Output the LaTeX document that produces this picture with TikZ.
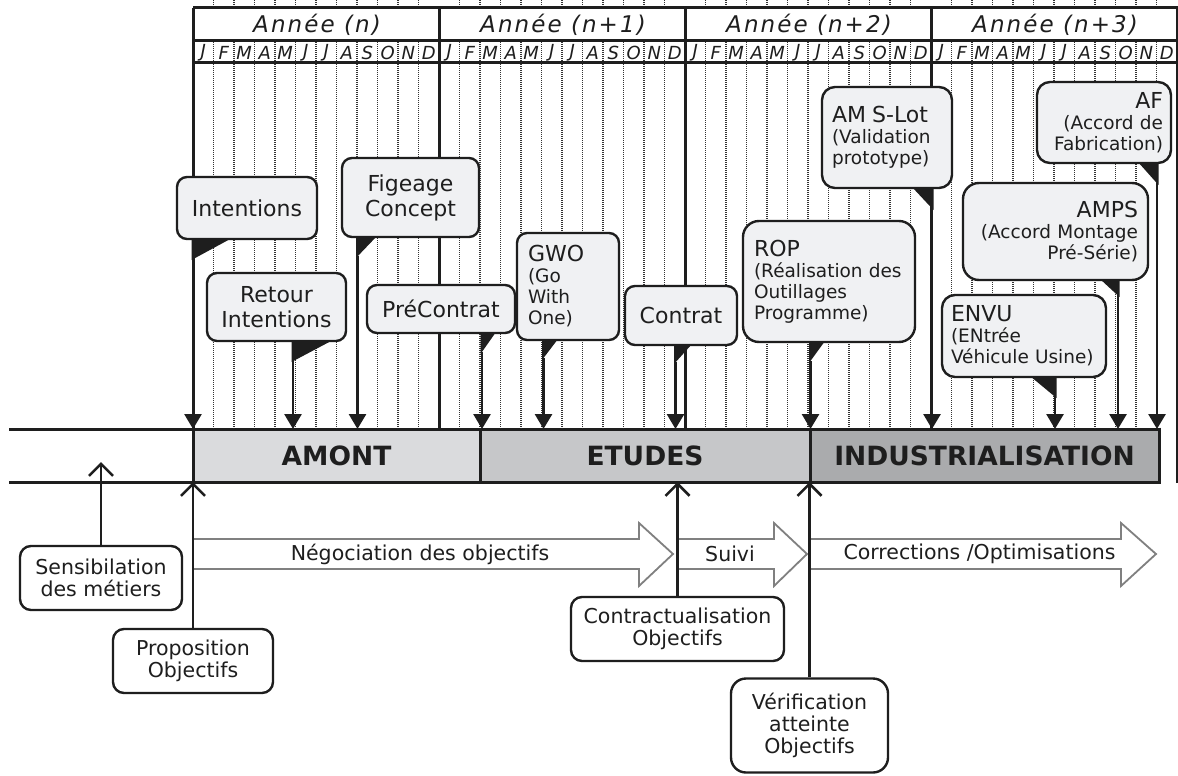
\documentclass[tikz,border=0pt]{standalone}
\usepackage{fontspec}
\setmainfont{DejaVu Sans}
\usetikzlibrary{arrows.meta}
\definecolor{boxfill}{HTML}{F0F1F3}
\definecolor{bandA}{HTML}{DADBDD}
\definecolor{bandB}{HTML}{C6C7C9}
\definecolor{bandC}{HTML}{AAABAD}
\definecolor{ink}{HTML}{1E1E1E}
\definecolor{arrgray}{HTML}{808080}
\newcommand{\subtxt}{\fontsize{18.5}{21}\selectfont}
\newcommand{\ttl}[1]{{\fontsize{22}{21}\selectfont #1}}
\begin{document}
\begin{tikzpicture}[x=1pt,y=-1pt,
  heavy/.style={draw=ink,line width=3pt},
  monthline/.style={draw=black!80,line width=1.8pt,dash pattern=on 1.2pt off 0.8pt},
  yearlbl/.style={font=\fontsize{23}{25}\selectfont\itshape\addfontfeature{LetterSpace=9},text=ink,inner sep=0pt},
  monthlbl/.style={font=\fontsize{18}{19}\selectfont\itshape,text=ink,inner sep=0pt},
  callbox/.style={draw=ink,line width=2.4pt,fill=boxfill,rounded corners=10pt,inner sep=0pt,font=\fontsize{22}{25}\selectfont,align=center,text=ink},
  lbox/.style={callbox,align=left,font=\subtxt},
  rbox/.style={callbox,align=right,font=\subtxt},
  tail/.style={fill=ink},
  callarrow/.style={draw=ink,line width=2.8pt,-{Triangle[width=17pt,length=15pt]}},
  band/.style={inner sep=0pt,minimum height=53pt,font=\fontsize{26.5}{28}\selectfont\bfseries,text=ink},
  botbox/.style={draw=ink,line width=2.4pt,fill=white,rounded corners=11pt,inner sep=0pt,font=\fontsize{20.5}{22}\selectfont,align=center,text=ink},
  uparrow/.style={draw=ink,line width=2.6pt,-{Straight Barb[width=24pt,length=12pt,line width=2.6pt]}},
  blockarrow/.style={draw=arrgray,line width=1.8pt,fill=white,line join=miter},
  flowlbl/.style={font=\fontsize{20.5}{22}\selectfont,text=ink,inner sep=0pt}
]
\useasboundingbox (0,0) rectangle (1178,776);
\fill[white] (0,0) rectangle (1178,776);

% month lines
\foreach \j in {0,...,3}{
  \foreach \k in {1,...,11}{
    \draw[monthline] ({193+246*\j+20.5*\k},0) -- ({193+246*\j+20.5*\k},429);
  }
}
% year row
\fill[white] (193,8) rectangle (1178,41);
\draw[heavy] (193,8) -- (1178,8);
\draw[heavy] (193,41) -- (1178,41);
\draw[heavy] (193,63) -- (1178,63);
\foreach \j/\t in {0/{(n)},1/{(n+1)},2/{(n+2)},3/{(n+3)}}{
  \node[yearlbl] (yr\j) at ({317+246*\j},25) {Année \t};
  \foreach \m [count=\k] in {J,F,M,A,M,J,J,A,S,O,N,D}{
    \node[monthlbl] (m\j-\k) at ({193+246*\j+20.5*(\k-0.5)},52.5) {\m};
  }
}
% year lines
\draw[heavy] (193,8) -- (193,429);
\draw[heavy] (439,8) -- (439,429);
\draw[heavy] (685,8) -- (685,429);
\draw[heavy] (931,8) -- (931,429);
\draw[heavy] (1177,8) -- (1177,483);

\coordinate (btop) at (0,429);
\coordinate (bbot) at (0,482);

% callouts
\node[callbox,minimum width=140pt,minimum height=62pt] (int) at (247,208) {Intentions};
\fill[tail] (191.5,238) -- (191.5,260) -- (232,238) -- cycle;
\coordinate (tint) at (193,258);
\draw[callarrow] (tint) -- (tint |- btop);

\node[callbox,minimum width=139pt,minimum height=68pt] (ret) at (276.5,307) {Retour\\Intentions};
\fill[tail] (291.5,340) -- (291.5,362) -- (333,340) -- cycle;
\coordinate (tret) at (293,360);
\draw[callarrow] (tret) -- (tret |- btop);

\node[callbox,minimum width=137pt,minimum height=79pt] (fig) at (410.5,197.5) {Figeage\\Concept};
\fill[tail] (356,236) -- (356,258) -- (377,236) -- cycle;
\coordinate (tfig) at (357.5,256);
\draw[callarrow] (tfig) -- (tfig |- btop);

\node[callbox,minimum width=148pt,minimum height=48pt] (pre) at (441,309) {PréContrat};
\fill[tail] (480.5,332) -- (480.5,354) -- (496,332) -- cycle;
\coordinate (tpre) at (482,352);
\draw[callarrow] (tpre) -- (tpre |- btop);

\node[lbox,minimum width=102pt,minimum height=107pt,text width=80pt] (gwo) at (568,286.5) {\ttl{GWO}\\(Go\\With\\One)};
\fill[tail] (542,339) -- (542,360) -- (558,339) -- cycle;
\coordinate (tgwo) at (543.5,358);
\draw[callarrow] (tgwo) -- (tgwo |- btop);

\node[callbox,minimum width=112pt,minimum height=59pt] (con) at (681,315.5) {Contrat};
\fill[tail] (674,344) -- (674,364) -- (692,344) -- cycle;
\coordinate (tcon) at (675.5,362);
\draw[callarrow] (tcon) -- (tcon |- btop);

\node[lbox,rounded corners=16pt,minimum width=172pt,minimum height=121pt,text width=150pt] (rop) at (829,281.5) {\ttl{ROP}\\(Réalisation des\\Outillages\\Programme)};
\fill[tail] (809,341) -- (809,363) -- (825,341) -- cycle;
\coordinate (trop) at (810.5,361);
\draw[callarrow] (trop) -- (trop |- btop);

\node[lbox,rounded corners=13pt,minimum width=130pt,minimum height=101pt,text width=110pt] (ams) at (887,137.5) {\ttl{AM S-Lot}\\(Validation\\prototype)};
\fill[tail] (912,187) -- (933.5,187) -- (933.5,210) -- cycle;
\coordinate (tams) at (932,208);
\draw[callarrow] (tams) -- (tams |- btop);

\node[rbox,rounded corners=13pt,minimum width=134pt,minimum height=81pt,text width=118pt] (af) at (1104,122.5) {\ttl{AF}\\(Accord de\\Fabrication)};
\fill[tail] (1138,162) -- (1158.5,162) -- (1158.5,185) -- cycle;
\coordinate (taf) at (1157,183);
\draw[callarrow] (taf) -- (taf |- btop);

\node[rbox,rounded corners=16pt,minimum width=185pt,minimum height=97pt,text width=165pt] (amps) at (1055.5,231.5) {\ttl{AMPS}\\(Accord Montage\\Pré-Série)};
\fill[tail] (1100,279) -- (1119.5,279) -- (1119.5,297) -- cycle;
\coordinate (tamps) at (1118,295);
\draw[callarrow] (tamps) -- (tamps |- btop);

\node[lbox,rounded corners=13pt,minimum width=164pt,minimum height=82pt,text width=146pt] (envu) at (1024,336) {\ttl{ENVU}\\(ENtrée\\Véhicule Usine)};
\fill[tail] (1030,376) -- (1056.5,376) -- (1056.5,398) -- cycle;
\coordinate (tenvu) at (1055,396);
\draw[callarrow] (tenvu) -- (tenvu |- btop);

% band
\node[band,fill=bandA,minimum width=287pt] (amont) at (336.5,455.5) {AMONT};
\node[band,fill=bandB,minimum width=330pt] (etudes) at (645,455.5) {ETUDES};
\node[band,fill=bandC,minimum width=349pt] (indus) at (984.5,455.5) {INDUSTRIALISATION};
\draw[heavy] (9,429) -- (1159,429);
\draw[heavy] (9,482) -- (1159,482);
\draw[heavy] (193,429) -- (193,482);
\draw[heavy] (480,429) -- (480,482);
\draw[heavy] (810,429) -- (810,482);
\draw[heavy] (1159,427.5) -- (1159,483.5);

% block arrows
\draw[blockarrow] (193,539) -- (639,539) -- (639,523) -- (673,554) -- (639,586) -- (639,569) -- (193,569) -- cycle;
\draw[blockarrow] (677,539) -- (774,539) -- (774,523) -- (807,554) -- (774,586) -- (774,569) -- (677,569) -- cycle;
\draw[blockarrow] (810,539) -- (1121,539) -- (1121,523) -- (1156,554) -- (1121,586) -- (1121,569) -- (810,569) -- cycle;
\node[flowlbl] (tneg) at (420,554) {Négociation des objectifs};
\node[flowlbl] (tsui) at (730,554) {Suivi};
\node[flowlbl] (tcor) at (979.5,554) {Corrections /Optimisations};

% bottom boxes
\node[botbox,minimum width=162pt,minimum height=64pt] (sens) at (101,578) {Sensibilation\\des métiers};
\node[botbox,minimum width=160pt,minimum height=64pt] (prop) at (193,661) {Proposition\\Objectifs};
\node[botbox,minimum width=213pt,minimum height=64pt] (ctr) at (677.5,629) {Contractualisation\\Objectifs};
\node[botbox,rounded corners=15pt,minimum width=157pt,minimum height=94pt] (verif) at (809.5,725.5) {Vérification\\atteinte\\Objectifs};

\coordinate (senstip) at (101,462);
\draw[uparrow] (sens.north) -- (senstip);
\draw[uparrow] (prop.north) -- (prop.north |- bbot);
\draw[uparrow] (ctr.north) -- (ctr.north |- bbot);
\draw[uparrow] (verif.north) -- (verif.north |- bbot);
\end{tikzpicture}
\end{document}
